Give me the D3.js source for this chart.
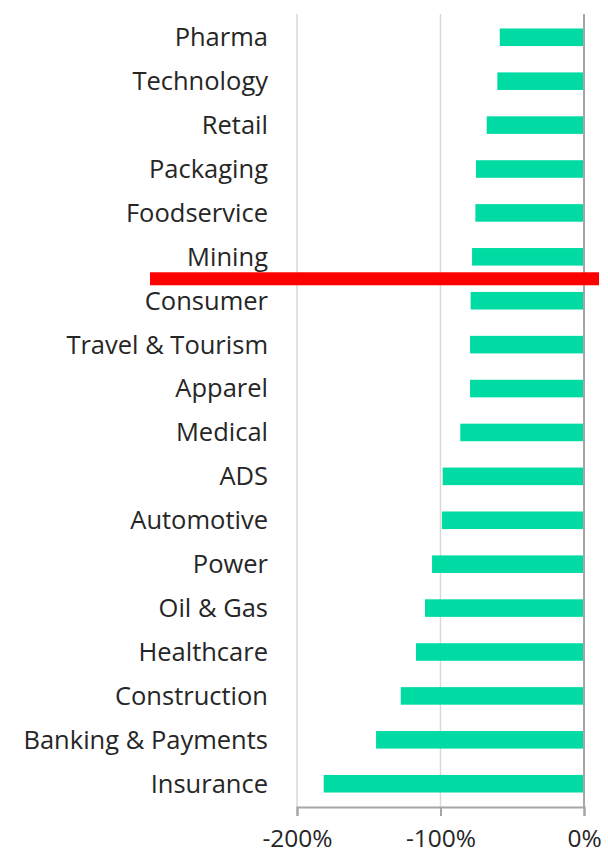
<!DOCTYPE html>
<meta charset="utf-8">
<style>
body { margin: 0; background: #fff; }
.label, .tick text { font-family: "Open Sans", "Noto Sans", sans-serif; fill: #262626; }
.grid line { stroke: #d9d9d9; stroke-width: 1.5px; }
.bar { fill: #00dba3; }
</style>
<svg width="608" height="856"></svg>
<script src="https://d3js.org/d3.v7.min.js"></script>
<script>
var sectors = ["Pharma", "Technology", "Retail", "Packaging", "Foodservice", "Mining",
  "Consumer", "Travel & Tourism", "Apparel", "Medical", "ADS", "Automotive", "Power",
  "Oil & Gas", "Healthcare", "Construction", "Banking & Payments", "Insurance"];
var change = [-58.7, -60.4, -67.8, -75.3, -75.7, -78.0, -79.0, -79.4, -79.4, -86.2,
  -98.5, -99.0, -105.9, -110.8, -117.1, -127.7, -144.9, -181.4];
var xTicks = [-200, -100, 0];
var markAfter = "Mining";

var svg = d3.select("svg"),
    margin = {top: 14, right: 24, bottom: 49, left: 297},
    width = +svg.attr("width") - margin.left - margin.right,
    height = +svg.attr("height") - margin.top - margin.bottom,
    g = svg.append("g").attr("transform", "translate(" + margin.left + "," + margin.top + ")");

var x = d3.scaleLinear().domain([-200, 0]).range([0, width]);
var y = d3.scaleBand().domain(sectors).range([0, height]).paddingInner(0.6).paddingOuter(0.33);

// gridlines
g.append("g").attr("class", "grid")
  .selectAll("line").data(xTicks.slice(0, -1)).enter().append("line")
    .attr("x1", d => x(d)).attr("x2", d => x(d))
    .attr("y1", 0).attr("y2", height);

g.selectAll(".bar").data(sectors).enter().append("rect")
    .attr("class", "bar")
    .attr("x", (d, i) => x(change[i]))
    .attr("width", (d, i) => x(0) - x(change[i]))
    .attr("y", d => y(d))
    .attr("height", y.bandwidth());

// zero line
g.append("line")
    .attr("x1", x(0)).attr("x2", x(0)).attr("y1", 0).attr("y2", height)
    .attr("stroke", "#a6a6a6").attr("stroke-width", 2);

var xAxis = g.append("g")
    .attr("transform", "translate(0," + height + ")")
    .call(d3.axisBottom(x).tickValues(xTicks).tickSize(9).tickPadding(13)
      .tickFormat(d => d + "%"));
xAxis.select(".domain").attr("stroke", "#a6a6a6").attr("stroke-width", 2);
xAxis.selectAll(".tick line").attr("stroke", "#a6a6a6").attr("stroke-width", 2);
xAxis.selectAll(".tick text").attr("font-size", 24.5).attr("dy", "0.75em");

g.selectAll(".label").data(sectors).enter().append("text")
    .attr("class", "label")
    .attr("x", -29)
    .attr("y", d => y(d) + y.bandwidth() / 2)
    .attr("dy", "0.35em")
    .attr("text-anchor", "end")
    .attr("font-size", 25.5)
    .text(d => d);

// red marker between Mining and next sector
var idx = sectors.indexOf(markAfter);
var yMark = (y(sectors[idx]) + y.bandwidth() + y(sectors[idx + 1])) / 2;
g.append("rect")
    .attr("x", -147).attr("width", width + 162)
    .attr("y", yMark - 6.5).attr("height", 13)
    .attr("fill", "#ff0000");
</script>
